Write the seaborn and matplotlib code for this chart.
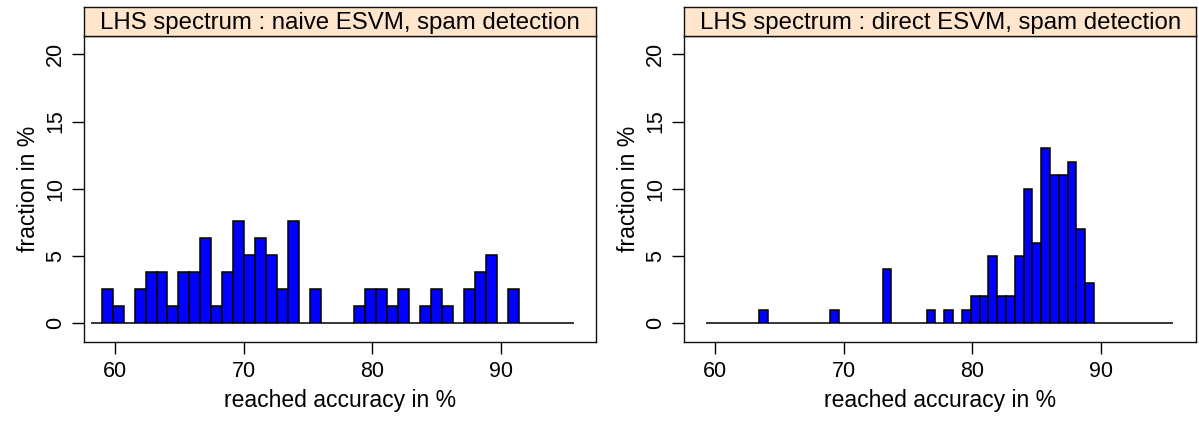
import numpy as np
import pandas as pd
import matplotlib
matplotlib.use("Agg")
import matplotlib.pyplot as plt
import seaborn as sns

sns.set_style("white")
plt.rcParams['font.family'] = ['Liberation Sans', 'DejaVu Sans']
plt.rcParams['text.color'] = 'black'
plt.rcParams['axes.labelcolor'] = 'black'
plt.rcParams['xtick.color'] = 'black'
plt.rcParams['ytick.color'] = 'black'

# ---- data: histogram breaks and counts per bin ----
left_title = "LHS spectrum : naive ESVM, spam detection"
left_n = 79
left_start = 58.08
left_width = 0.855
left_counts = [0, 2, 1, 0, 2, 3, 3, 1, 3, 3, 5, 1, 3, 6, 4, 5, 4, 2, 6, 0,
               2, 0, 0, 0, 1, 2, 2, 1, 2, 0, 1, 2, 1, 0, 2, 3, 4, 0, 2, 0,
               0, 0, 0, 0]

right_title = "LHS spectrum : direct ESVM, spam detection"
right_n = 100
right_start = 59.31
right_width = 0.6855
right_counts = [0, 0, 0, 0, 0, 0, 1, 0, 0, 0, 0, 0, 0, 0, 1, 0, 0, 0, 0, 0,
                4, 0, 0, 0, 0, 1, 0, 1, 0, 1, 2, 2, 5, 2, 2, 5, 10, 6, 13, 11,
                11, 12, 7, 3, 0, 0, 0, 0, 0, 0, 0, 0, 0]

x_ticks = [60, 70, 80, 90]
y_ticks = [0, 5, 10, 15, 20]
x_label = "reached accuracy in %"
y_label = "fraction in %"

W, H = 1199, 423
fig = plt.figure(figsize=(W / 100, H / 100), dpi=100)

panels = [
    (84, left_title, left_start, left_width, left_counts, left_n),
    (684, right_title, right_start, right_width, right_counts, right_n),
]
top_px, bot_px, strip_top = 35.7, 341.7, 7.3
tick_fs, label_fs, strip_fs = 15.5, 16.5, 17.3
for x0, title, start, width, counts, n in panels:
    w_px = 512.3
    ax = fig.add_axes([x0 / W, 1 - bot_px / H, w_px / W, (bot_px - top_px) / H])
    edges = [float(start + width * i) for i in range(len(counts) + 1)]
    centers = [(edges[i] + edges[i + 1]) / 2 for i in range(len(counts))]
    df = pd.DataFrame({"acc": centers, "pct": [c / n * 100 for c in counts]})
    sns.histplot(data=df, x="acc", weights="pct", bins=edges, ax=ax, stat="count",
                 color="#0000FF", edgecolor="black", linewidth=1.1, alpha=1.0)
    ax.set_xlim(57.57, 97.42)
    ax.set_ylim(-1.37, 21.38)
    ax.set_xticks(x_ticks)
    ax.set_yticks(y_ticks)
    ax.set_xticklabels([str(t) for t in x_ticks], fontsize=tick_fs)
    ax.set_yticklabels([str(t) for t in y_ticks], fontsize=tick_fs, rotation=90, va="center")
    ax.tick_params(axis="both", direction="out", length=8.3, width=1.0, color="black",
                   bottom=True, left=True, top=False, right=False)
    ax.tick_params(axis="x", pad=5.5)
    ax.tick_params(axis="y", pad=4.5)
    for s in ax.spines.values():
        s.set_color("#111111")
        s.set_linewidth(1.0)
    ax.set_xlabel(x_label, fontsize=label_fs, labelpad=5.0)
    ax.set_ylabel(y_label, fontsize=label_fs, labelpad=4.0)
    ax.grid(False)
    ax.set_facecolor("white")

    sax = fig.add_axes([x0 / W, 1 - top_px / H, w_px / W, (top_px - strip_top) / H])
    sax.set_facecolor("#FFE5CC")
    sax.set_xticks([])
    sax.set_yticks([])
    for s in sax.spines.values():
        s.set_color("#111111")
        s.set_linewidth(1.0)
    sax.text(0.5, 0.22, title, ha="center", va="baseline", fontsize=strip_fs,
             transform=sax.transAxes)

fig.savefig("out.png", dpi=100)
